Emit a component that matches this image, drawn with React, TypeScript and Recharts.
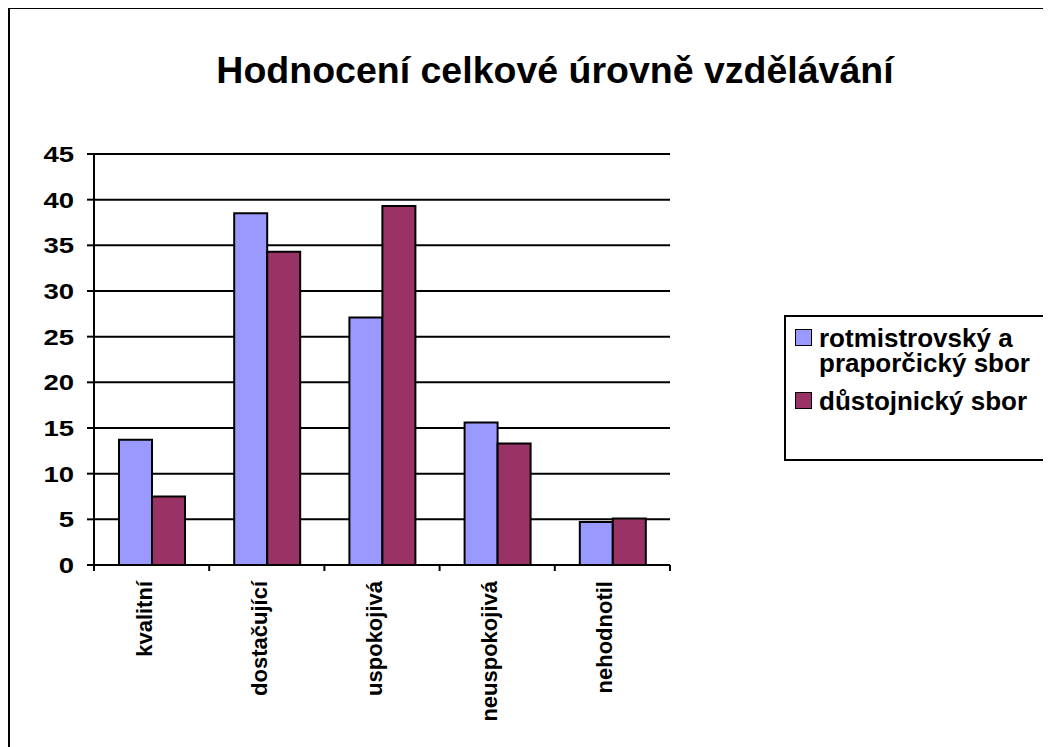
import React from 'react';
import { BarChart, Bar, XAxis, YAxis, CartesianGrid, Legend } from 'recharts';

const categories = ['kvalitní', 'dostačující', 'uspokojivá', 'neuspokojivá', 'nehodnotil'];
const rotmistrovsky = [13.7, 38.5, 27.1, 15.6, 4.7];
const dustojnicky = [7.5, 34.3, 39.3, 13.3, 5.1];
const yTicks = [0, 5, 10, 15, 20, 25, 30, 35, 40, 45];
const seriesNames = ['rotmistrovský a praporčický sbor', 'důstojnický sbor'];
const seriesColors = ['#9999FF', '#993366'];
const title = 'Hodnocení celkové úrovně vzdělávání';

const data = categories.map((c, i) => ({ name: c, a: rotmistrovsky[i], b: dustojnicky[i] }));

if (typeof document !== 'undefined') {
  document.documentElement.style.overflow = 'hidden';
  document.body.style.overflow = 'hidden';
}

const FONT = '"Liberation Sans", Arial, sans-serif';

const XTick = (props: any) => {
  const { x, y, payload, width, visibleTicksCount, index } = props;
  const band = (width || 576) / (visibleTicksCount || 5);
  const ty = y + 16;
  return (
    <g>
      <line x1={x - band / 2} x2={x - band / 2} y1={y} y2={y + 6} stroke="#000" strokeWidth={2} />
      {index === visibleTicksCount - 1 && (
        <line x1={x + band / 2} x2={x + band / 2} y1={y} y2={y + 6} stroke="#000" strokeWidth={2} />
      )}
      <text
        x={x}
        y={ty}
        transform={`rotate(-90, ${x}, ${ty})`}
        textAnchor="end"
        fontFamily={FONT}
        fontWeight="bold"
        fontSize={22}
        fill="#000"
      >
        {payload.value}
      </text>
    </g>
  );
};

const YTick = (props: any) => {
  const { x, y, payload } = props;
  return (
    <g transform={`translate(${x}, ${y + 8}) scale(1.25, 1)`}>
      <text x={0} y={0} textAnchor="end" fontFamily={FONT} fontWeight="bold" fontSize={22} fill="#000">
        {payload.value}
      </text>
    </g>
  );
};

const LegendContent = () => {
  return (
    <div
      style={{
        width: 261,
        height: 146,
        border: '2px solid #000',
        boxSizing: 'border-box',
        paddingTop: 9,
        paddingLeft: 9,
        background: '#fff',
        fontFamily: FONT,
        fontWeight: 'bold',
        fontSize: 26,
        lineHeight: '25px',
        color: '#000',
      }}
    >
      {seriesNames.map((name, i) => (
        <div key={i} style={{ display: 'flex', alignItems: 'flex-start', marginTop: i === 0 ? 0 : 13 }}>
          <div
            style={{
              width: 17,
              height: 17,
              marginTop: 3,
              border: '1.5px solid #000',
              boxSizing: 'border-box',
              background: seriesColors[i],
              flex: '0 0 auto',
            }}
          />
          <div style={{ marginLeft: 7, width: 226, whiteSpace: 'normal' }}>{name}</div>
        </div>
      ))}
    </div>
  );
};

export default function App() {
  return (
    <div
      style={{
        position: 'relative',
        width: 1043,
        height: 740,
        marginTop: -1,
        borderTop: '2px solid #000',
        borderLeft: '2px solid #000',
        boxSizing: 'border-box',
        background: '#fff',
      }}
    >
      <div
        style={{
          position: 'absolute',
          left: 45,
          top: 43,
          width: 1000,
          textAlign: 'center',
          fontFamily: FONT,
          fontWeight: 'bold',
          fontSize: 37.5,
          lineHeight: '37px',
          color: '#000',
          zIndex: 2,
        }}
      >
        {title}
      </div>
      <BarChart
        width={1041}
        height={735}
        data={data}
        margin={{ top: 145, right: 381, bottom: 9, left: 0 }}
        barCategoryGap="21.7%"
        barGap={0}
      >
        <CartesianGrid vertical={false} stroke="#000" strokeWidth={2} />
        <XAxis
          dataKey="name"
          height={170}
          tickSize={0}
          tickMargin={0}
          tickLine={false}
          axisLine={{ stroke: '#000', strokeWidth: 2 }}
          tick={<XTick />}
          interval={0}
        />
        <YAxis
          width={84}
          domain={[0, 45]}
          ticks={yTicks}
          tickSize={7}
          tickMargin={13}
          axisLine={{ stroke: '#000', strokeWidth: 2 }}
          tickLine={{ stroke: '#000', strokeWidth: 2 }}
          tick={<YTick />}
          interval={0}
        />
        <Legend
          layout="horizontal"
          align="center"
          verticalAlign="middle"
          wrapperStyle={{ position: 'absolute', left: 774, top: 306, width: 261, height: 146 }}
          content={<LegendContent />}
        />
        <Bar dataKey="a" name={seriesNames[0]} fill={seriesColors[0]} stroke="#000" strokeWidth={2} isAnimationActive={false} />
        <Bar dataKey="b" name={seriesNames[1]} fill={seriesColors[1]} stroke="#000" strokeWidth={2} isAnimationActive={false} />
      </BarChart>
    </div>
  );
}
